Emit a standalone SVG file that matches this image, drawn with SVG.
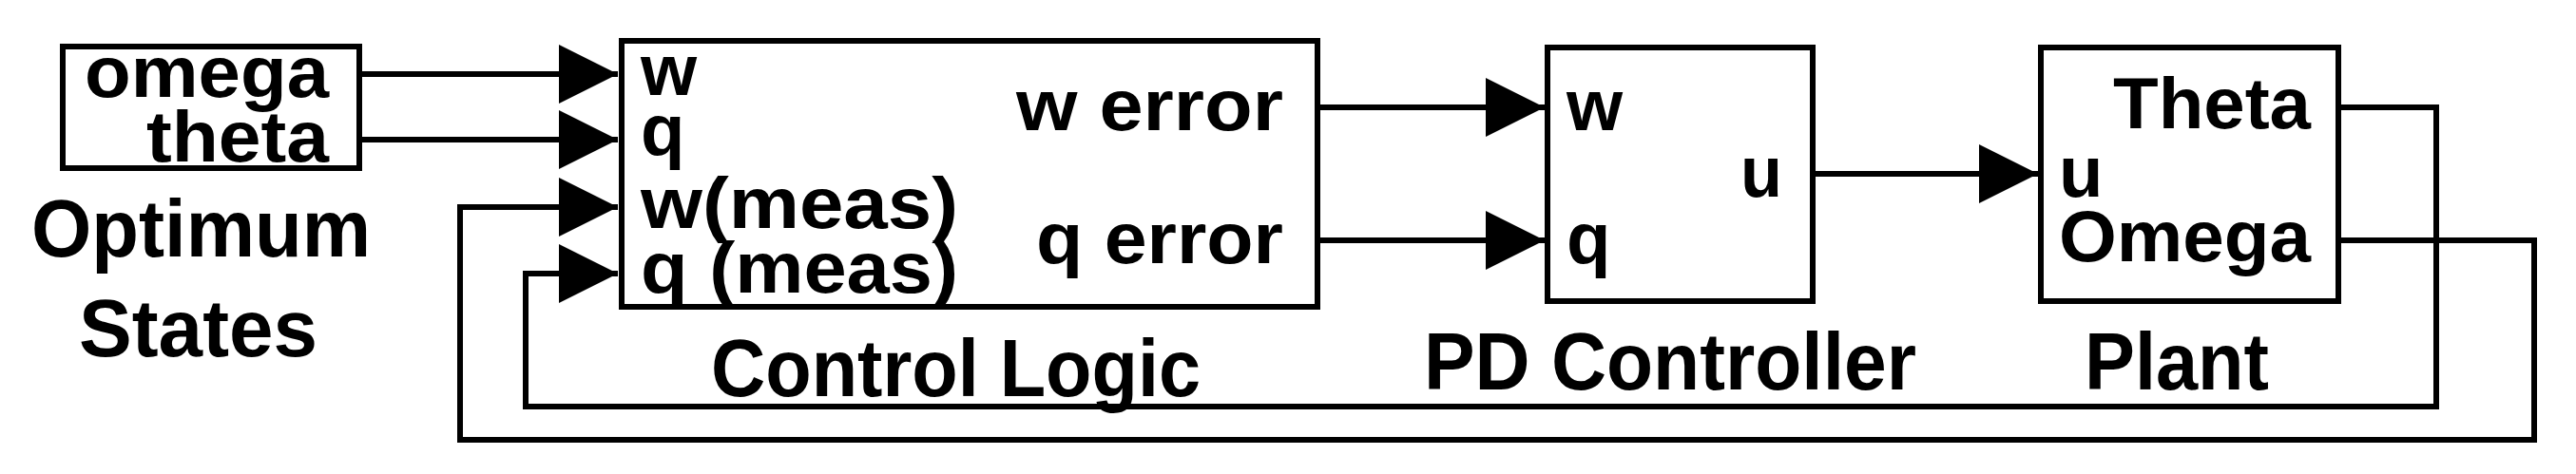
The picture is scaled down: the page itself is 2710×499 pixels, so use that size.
<svg xmlns="http://www.w3.org/2000/svg" width="2710" height="499" viewBox="0 0 2710 499">
<style>
.box{fill:#fff;stroke:#000;stroke-width:6}
.wire{fill:none;stroke:#000;stroke-width:6}
.s{font-family:"Liberation Sans",Arial,sans-serif;font-weight:bold;font-size:76px;fill:#000}
.b{font-family:"Liberation Sans",Arial,sans-serif;font-weight:bold;font-size:86px;fill:#000}
</style>
<defs>
<marker id="arr" markerUnits="userSpaceOnUse" markerWidth="64" markerHeight="64" refX="62" refY="31" orient="auto" viewBox="0 0 64 64">
<path d="M0,0 L62,31 L0,62 Z" fill="#000"/>
</marker>
</defs>
<g id="connectors">
<path class="wire" d="M379,78 H650" marker-end="url(#arr)"/>
<path class="wire" d="M379,147 H650" marker-end="url(#arr)"/>
<path class="wire" d="M2460,253 H2666 V463 H484 V218 H650" marker-end="url(#arr)"/>
<path class="wire" d="M2460,113 H2563 V428 H553 V288 H650" marker-end="url(#arr)"/>
<path class="wire" d="M1386,113 H1625" marker-end="url(#arr)"/>
<path class="wire" d="M1386,253 H1625" marker-end="url(#arr)"/>
<path class="wire" d="M1907,183 H2144" marker-end="url(#arr)"/>
</g>
<g id="optimum-states">
<rect class="box" x="66" y="49" width="312" height="128"/>
<text class="s" x="89" y="102" textLength="257" lengthAdjust="spacingAndGlyphs">omega</text>
<text class="s" x="154" y="170" textLength="192" lengthAdjust="spacingAndGlyphs">theta</text>
<text class="b" x="33" y="270" textLength="357" lengthAdjust="spacingAndGlyphs">Optimum</text>
<text class="b" x="83" y="375" textLength="251" lengthAdjust="spacingAndGlyphs">States</text>
</g>
<g id="control-logic">
<rect class="box" x="654" y="43" width="732" height="280"/>
<text class="s" x="674" y="100">w</text>
<text class="s" x="674" y="163">q</text>
<text class="s" x="674" y="240" textLength="334" lengthAdjust="spacingAndGlyphs">w(meas)</text>
<text class="s" x="674" y="308" textLength="334" lengthAdjust="spacingAndGlyphs">q (meas)</text>
<text class="s" x="1069" y="137" textLength="281" lengthAdjust="spacingAndGlyphs">w error</text>
<text class="s" x="1090" y="277" textLength="260" lengthAdjust="spacingAndGlyphs">q error</text>
<text class="b" x="748" y="417" textLength="515" lengthAdjust="spacingAndGlyphs">Control Logic</text>
</g>
<g id="pd-controller">
<rect class="box" x="1628" y="50" width="279" height="267"/>
<text class="s" x="1648" y="137">w</text>
<text class="s" x="1648" y="277">q</text>
<text class="s" x="1831" y="207" textLength="44" lengthAdjust="spacingAndGlyphs">u</text>
<text class="b" x="1498" y="410" textLength="518" lengthAdjust="spacingAndGlyphs">PD Controller</text>
</g>
<g id="plant">
<rect class="box" x="2147" y="50" width="313" height="267"/>
<text class="s" x="2166" y="207">u</text>
<text class="s" x="2223" y="135" textLength="208" lengthAdjust="spacingAndGlyphs">Theta</text>
<text class="s" x="2166" y="275" textLength="265" lengthAdjust="spacingAndGlyphs">Omega</text>
<text class="b" x="2193" y="410" textLength="194" lengthAdjust="spacingAndGlyphs">Plant</text>
</g>
</svg>
